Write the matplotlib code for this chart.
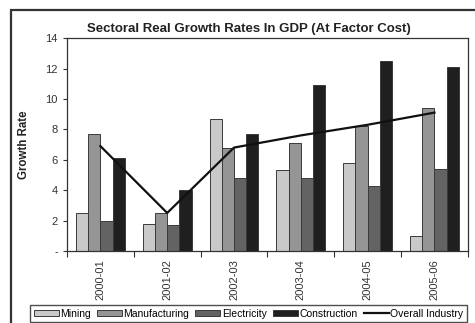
import matplotlib.pyplot as plt
import numpy as np
from matplotlib.patches import Rectangle

plt.rcParams['font.family'] = ['Liberation Sans', 'DejaVu Sans']

years = ['2000-01', '2001-02', '2002-03', '2003-04', '2004-05', '2005-06']
mining = [2.5, 1.8, 8.7, 5.3, 5.8, 1.0]
manufacturing = [7.7, 2.5, 6.8, 7.1, 8.2, 9.4]
electricity = [2.0, 1.7, 4.8, 4.8, 4.3, 5.4]
construction = [6.1, 4.0, 7.7, 10.9, 12.5, 12.1]
overall = [6.9, 2.5, 6.8, 7.6, 8.3, 9.1]

series = [('Mining', mining, '#c9c9c9'),
          ('Manufacturing', manufacturing, '#959595'),
          ('Electricity', electricity, '#636363'),
          ('Construction', construction, '#1f1f1f')]

fig = plt.figure(figsize=(4.75, 3.23), dpi=100)
ax = fig.add_axes([0.141, 0.223, 0.844, 0.659])

x = np.arange(len(years))
w = 0.183
for i, (name, vals, col) in enumerate(series):
  ax.bar(x + (i - 1.5)*w, vals, w, color=col, edgecolor='#3a3a3a', linewidth=0.7, label=name)
ax.plot(x, overall, color='#111111', lw=1.6, label='Overall Industry')

ax.set_xlim(-0.5, len(years) - 0.5)
ax.set_ylim(0, 14)
ax.set_yticks(np.arange(0, 15, 2))
ax.set_yticklabels(['-'] + [str(v) for v in range(2, 15, 2)])
ax.set_xticks(x)
ax.set_xticklabels(years, rotation=90)
ax.set_xticks(np.arange(-0.5, len(years)), minor=True)
ax.tick_params(axis='x', which='major', length=0, pad=6, labelsize=8, colors='#333333')
ax.tick_params(axis='x', which='minor', length=4, width=0.8, color='#333333')
ax.tick_params(axis='y', length=3, width=0.8, labelsize=8, colors='#333333', labelcolor='#333333')
for s in ax.spines.values():
  s.set_color('#333333')
  s.set_linewidth(0.9)

ax.set_ylabel('Growth Rate', fontsize=8.3, fontweight='bold', color='#222222')
ax.yaxis.set_label_coords(-0.092, 0.5)
fig.text(0.523, 0.91, 'Sectoral Real Growth Rates In GDP (At Factor Cost)',
         ha='center', va='center', fontsize=9.5, fontweight='bold', color='#222222')

# outer chart border
fig.patches.append(Rectangle((11/475, -0.1), 1.2, 1 - 10/323 + 0.1, transform=fig.transFigure,
                             fill=False, edgecolor='#333333', lw=1.6))

handles, labels = ax.get_legend_handles_labels()
order = [1, 2, 3, 4, 0]
leg = fig.legend([handles[k] for k in order], [labels[k] for k in order], ncol=5,
                 loc='upper left', mode='expand',
                 bbox_to_anchor=(30/475, -0.2, 437/475, 1 - 305/323 + 0.2),
                 fontsize=7.5, frameon=True, fancybox=False, edgecolor='#222222',
                 handlelength=2.4, handleheight=0.5, handletextpad=0.15,
                 columnspacing=0.5, borderpad=0.35, borderaxespad=0)
leg.get_frame().set_linewidth(1.0)

fig.savefig('out.png', dpi=100)
